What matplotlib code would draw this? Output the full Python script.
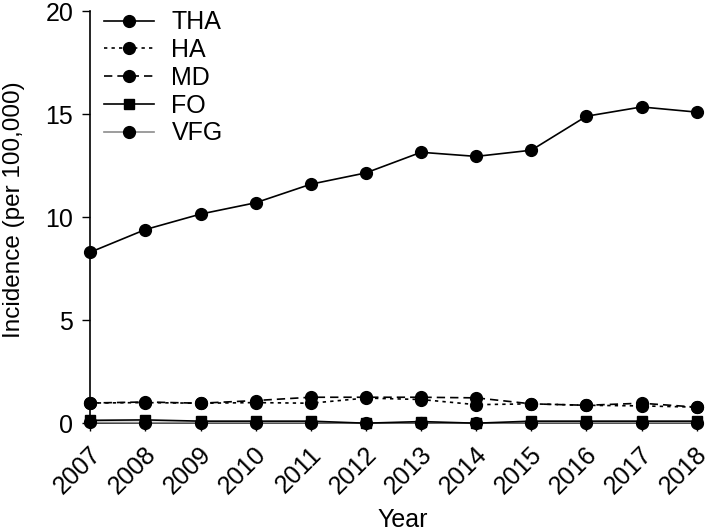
import matplotlib
matplotlib.use("Agg")
import matplotlib.pyplot as plt
from matplotlib.transforms import ScaledTranslation

plt.rcParams["font.family"] = ["Liberation Sans", "DejaVu Sans"]

# --- Data ---
years = [2007, 2008, 2009, 2010, 2011, 2012, 2013, 2014, 2015, 2016, 2017, 2018]
tha = [8.3, 9.4, 10.15, 10.7, 11.6, 12.15, 13.15, 12.95, 13.25, 14.9, 15.35, 15.1]
ha = [0.98, 1.0, 0.97, 1.0, 0.97, 1.22, 1.15, 0.9, 0.94, 0.87, 0.84, 0.78]
md = [0.98, 1.03, 0.97, 1.1, 1.26, 1.26, 1.26, 1.23, 0.94, 0.87, 0.97, 0.78]
fo = [0.14, 0.16, 0.1, 0.1, 0.1, 0.0, 0.08, 0.0, 0.1, 0.1, 0.1, 0.1]
vfg = [0.04, 0.03, 0.03, 0.03, 0.03, 0.0, 0.03, 0.0, 0.03, 0.03, 0.03, 0.03]

FS = 18

fig = plt.figure(figsize=(7.28, 5.31), dpi=100)
ax = fig.add_axes([0.124, 0.203, 0.833, 0.776])

ms = 8.5
lw = 1.2
ax.plot(years, vfg, color="#8c8c8c", lw=lw, marker="o", ms=ms, mfc="black",
        mec="black", label="VFG", clip_on=False, zorder=3)
ax.plot(years, fo, color="black", lw=lw, marker="s", ms=7, label="FO",
        clip_on=False, zorder=4)
ax.plot(years, md, color="black", lw=lw, ls=(0, (5, 3)), marker="o", ms=ms,
        label="MD", clip_on=False, zorder=5)
ax.plot(years, ha, color="black", lw=lw, ls=(0, (2, 2.5)), marker="o", ms=ms,
        label="HA", clip_on=False, zorder=5)
ax.plot(years, tha, color="black", lw=lw, marker="o", ms=ms, label="THA",
        clip_on=False, zorder=6)

ax.set_xlim(2007, 2018)
ax.set_ylim(0, 20)
ax.set_yticks([0, 5, 10, 15, 20])
ax.set_xticks(years)
ax.set_xticklabels([str(y) for y in years], rotation=45, ha="right",
                   va="center", rotation_mode="anchor")
ax.tick_params(axis="both", labelsize=FS, length=5.8, width=1, colors="black")
ax.tick_params(axis="x", pad=14)
ax.tick_params(axis="y", pad=6.5)
# nudge rotated year labels a little to the right, as in the reference
shift = ScaledTranslation(0.07, 0, fig.dpi_scale_trans)
for lab in ax.get_xticklabels():
    lab.set_transform(lab.get_transform() + shift)

for side in ["top", "right"]:
    ax.spines[side].set_visible(False)
for side in ["left", "bottom"]:
    ax.spines[side].set_linewidth(1.2)

ax.set_xlabel("Year", fontsize=FS)
ax.xaxis.set_label_coords(0.516, -0.205)
ax.set_ylabel("Incidence (per 100,000)", fontsize=17.5)
ax.yaxis.set_label_coords(-0.108, 0.517)

handles, labels = ax.get_legend_handles_labels()
order = ["THA", "HA", "MD", "FO", "VFG"]
hmap = dict(zip(labels, handles))
ax.legend([hmap[k] for k in order], order, loc="upper left",
          bbox_to_anchor=(0.006, 1.026), frameon=False, fontsize=FS,
          handlelength=2.0, labelspacing=0.15, handletextpad=0.7,
          borderaxespad=0)

fig.savefig("out.png", dpi=100)
